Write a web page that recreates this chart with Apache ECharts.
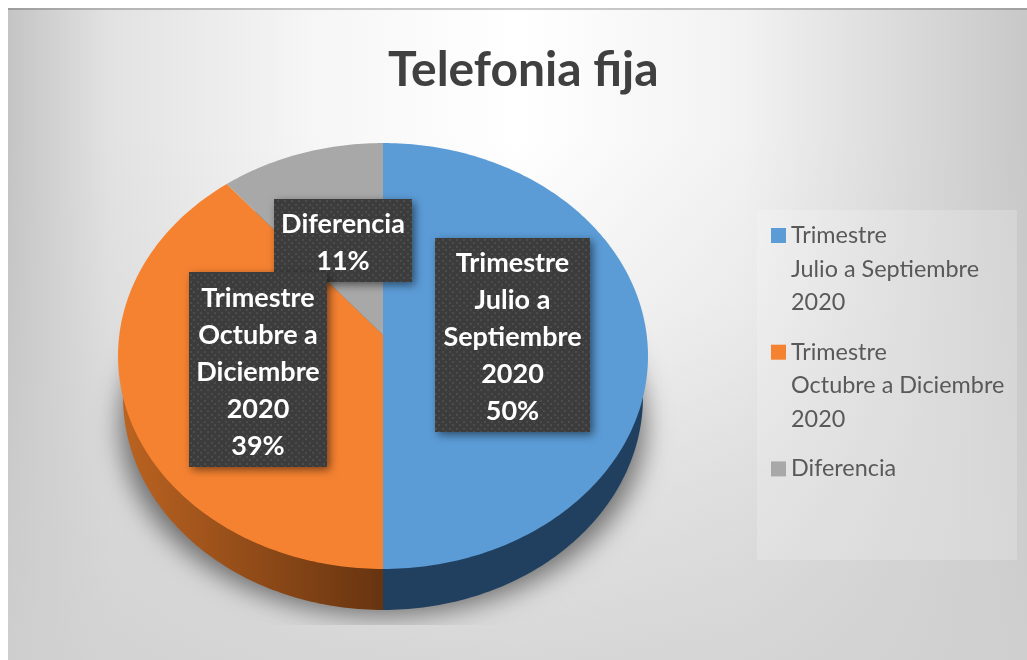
<!DOCTYPE html>
<html>
<head>
<meta charset="utf-8">
<title>Telefonia fija</title>
<style>
  html, body { margin: 0; padding: 0; background: #fff; }
  #chart { width: 1027px; height: 660px; }
</style>
<script src="https://cdn.jsdelivr.net/npm/echarts@6/dist/echarts.min.js"></script>
</head>
<body>
<div id="chart"></div>
<script>
/* -------------------------------------------------------------------------- */
/*                                   Data                                     */
/* -------------------------------------------------------------------------- */
const chartTitle = 'Telefonia fija';
const categories = [
  'Trimestre\nJulio a Septiembre\n2020',
  'Trimestre\nOctubre a Diciembre\n2020',
  'Diferencia'
];
const labelNames = [
  'Trimestre\nJulio a\nSeptiembre\n2020',
  'Trimestre\nOctubre a\nDiciembre\n2020',
  'Diferencia'
];
const sliceValues = [50, 39, 11];

/* -------------------------------------------------------------------------- */
/*                                   Styles                                   */
/* -------------------------------------------------------------------------- */
const topColors = ['#5b9bd6', '#f58231', '#a8a8a8'];
const wallColors = [
  '#21405f',
  new echarts.graphic.LinearGradient(0, 0, 1, 0, [
    { offset: 0, color: '#bb6321' },
    { offset: 1, color: '#673410' }
  ]),
  '#666666'
];
const labelBoxes = [
  { x: 435, y: 238, width: 155, height: 194 },
  { x: 189, y: 272, width: 138, height: 195 },
  { x: 274, y: 199, width: 138, height: 83 }
];
const labelZ = [5, 5, 4];

// the pie is a circle seen in perspective, so the apex sits above the middle of the ellipse
const pie = { cx: 383, apexY: 335, a: 263.7, b: 210.9, k: 0.0986 };
const wall = { a: 258.7, drop: 41 };

const project = (angle, a, drop) => {
  const u = Math.sin(angle);
  const v = -Math.cos(angle);
  const w = 1 - pie.k * v;
  return [pie.cx + (a * u) / w, pie.apexY + drop + (pie.b * v) / w];
};

const sectorPoints = (start, end, a, drop) => {
  const points = [[pie.cx, pie.apexY + drop]];
  const steps = Math.ceil((end - start) * 180 / Math.PI);
  for (let i = 0; i <= steps; i++) {
    points.push(project(start + ((end - start) * i) / steps, a, drop));
  }
  return points;
};

const dotPattern = () => {
  const c = document.createElement('canvas');
  c.width = 7;
  c.height = 7;
  const ctx = c.getContext('2d');
  ctx.fillStyle = '#3c3c3c';
  ctx.fillRect(0, 0, 7, 7);
  ctx.fillStyle = '#4c4c4c';
  ctx.fillRect(1, 1, 2, 2);
  ctx.fillRect(4, 4, 2, 2);
  return { image: c, repeat: 'repeat' };
};
const boxFill = dotPattern();

const total = sliceValues.reduce((sum, v) => sum + v, 0);

const sliceSeries = categories.map((name, index) => {
  const before = sliceValues.slice(0, index).reduce((sum, v) => sum + v, 0);
  return {
    type: 'custom',
    name: name,
    coordinateSystem: 'none',
    silent: true,
    data: [[sliceValues[index]]],
    renderItem: (params, api) => {
      const start = (before / total) * Math.PI * 2;
      const end = ((before + api.value(0)) / total) * Math.PI * 2;
      const box = labelBoxes[index];
      return {
        type: 'group',
        children: [
          {
            type: 'polygon',
            z2: 1,
            shape: { points: sectorPoints(start, end, wall.a, wall.drop) },
            style: { fill: wallColors[index] }
          },
          {
            type: 'polygon',
            z2: 2,
            shape: { points: sectorPoints(start, end, pie.a, 0) },
            style: { fill: topColors[index] }
          },
          {
            type: 'rect',
            z2: labelZ[index],
            shape: box,
            style: {
              fill: boxFill,
              shadowBlur: 9,
              shadowOffsetX: 3,
              shadowOffsetY: 3,
              shadowColor: 'rgba(0,0,0,0.5)'
            }
          },
          {
            type: 'text',
            z2: labelZ[index] + 1,
            style: {
              x: box.x + box.width / 2,
              y: box.y + box.height / 2 + 2.5,
              text: labelNames[index] + '\n' + api.value(0) + '%',
              fill: '#ffffff',
              font: 'bold 27px Lato',
              lineHeight: 37,
              align: 'center',
              verticalAlign: 'middle'
            }
          }
        ]
      };
    }
  };
});

// soft shadow under the pie, cut off at the bottom of the plot area.
// the ellipse itself sits off the canvas, only its shadow lands under the pie
const shadowShift = 2000;
const shadowSeries = {
  type: 'custom',
  name: 'sombra',
  coordinateSystem: 'none',
  silent: true,
  data: [[0]],
  renderItem: () => ({
    type: 'group',
    clipPath: { type: 'rect', shape: { x: -shadowShift, y: 200, width: 1027 + shadowShift, height: 425 } },
    children: [
      {
        type: 'ellipse',
        z2: 0,
        shape: { cx: pie.cx - shadowShift, cy: 425, rx: 262, ry: 190 },
        style: {
          fill: '#000000',
          shadowBlur: 26,
          shadowOffsetX: shadowShift,
          shadowColor: 'rgba(0,0,0,0.5)'
        }
      }
    ]
  })
};

const legendLine = (text, index, lineNo) =>
  (lineNo === 0 ? `{m${index}|}{g|}` : '{s|}') + `{t|${text}}`;

const legendRich = {
  t: { fontSize: 23.4, lineHeight: 33.6, color: '#595959', fontFamily: 'Lato' },
  s: { width: 20, height: 15 },
  g: { width: 5, height: 15 }
};
topColors.forEach((color, i) => {
  legendRich['m' + i] = { width: 15, height: 15, backgroundColor: color };
});

const chart = echarts.init(document.getElementById('chart'));
chart.setOption({
  animation: false,
  backgroundColor: 'transparent',
  color: topColors,
  title: {
    text: chartTitle,
    left: 388,
    top: 47,
    padding: 0,
    textStyle: { fontFamily: 'Lato', fontWeight: 'bold', fontSize: 48, color: '#404040' }
  },
  legend: {
    orient: 'vertical',
    left: 766,
    top: 224,
    padding: 0,
    itemWidth: 0,
    itemHeight: 0,
    itemGap: 26.5,
    selectedMode: false,
    data: categories,
    formatter: name => {
      const index = categories.indexOf(name);
      return name.split('\n').map((line, n) => legendLine(line, index, n)).join('\n');
    },
    textStyle: { rich: legendRich, padding: 0 }
  },
  graphic: [
    {
      type: 'rect',
      z: -10,
      silent: true,
      shape: { x: 8, y: 8, width: 1019, height: 652 },
      style: {
        fill: new echarts.graphic.LinearGradient(0, 0, 1, 0, [
          { offset: 0, color: '#c4c4c4' },
          { offset: 0.1, color: '#e2e2e2' },
          { offset: 0.3, color: '#f6f6f6' },
          { offset: 0.5, color: '#ffffff' },
          { offset: 0.72, color: '#f2f2f2' },
          { offset: 1, color: '#c8c8c8' }
        ])
      }
    },
    {
      type: 'rect',
      z: -9,
      silent: true,
      shape: { x: 8, y: 8, width: 1019, height: 652 },
      style: {
        fill: new echarts.graphic.LinearGradient(0, 0, 0, 1, [
          { offset: 0, color: 'rgba(208,208,208,0)' },
          { offset: 0.2, color: 'rgba(208,208,208,0)' },
          { offset: 0.45, color: 'rgba(208,208,208,0.2)' },
          { offset: 0.75, color: 'rgba(208,208,208,0.6)' },
          { offset: 1, color: 'rgba(208,208,208,0.85)' }
        ])
      }
    },
    {
      type: 'rect',
      z: -8,
      silent: true,
      shape: { x: 8, y: 8, width: 1019, height: 2 },
      style: { fill: 'rgba(0,0,0,0.2)' }
    },
    {
      type: 'rect',
      z: -7,
      silent: true,
      shape: { x: 757, y: 210, width: 260, height: 350 },
      style: { fill: 'rgba(255,255,255,0.2)' }
    }
  ],
  series: [shadowSeries].concat(sliceSeries)
});
</script>
</body>
</html>
